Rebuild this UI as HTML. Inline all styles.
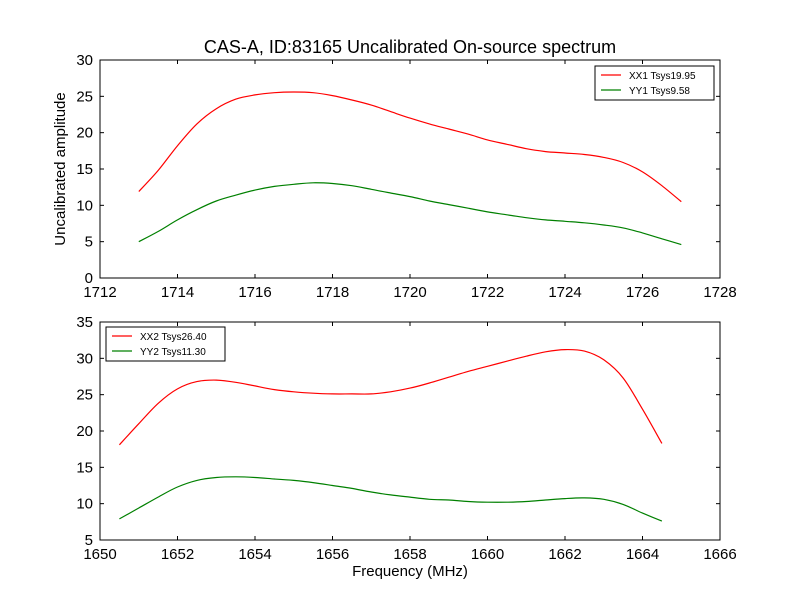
<!DOCTYPE html>
<html><head><meta charset="utf-8"><style>body{margin:0;background:#fff}svg{display:block;font-family:"Liberation Sans",sans-serif}</style></head>
<body>
<svg id="c" width="800" height="600">
<rect width="800" height="600" fill="#fff"/>
<text x="410" y="53" font-size="18" text-anchor="middle">CAS-A, ID:83165 Uncalibrated On-source spectrum</text>
<text x="65" y="169" font-size="15" text-anchor="middle" transform="rotate(-90 65 169)">Uncalibrated amplitude</text>
<text x="410" y="576" font-size="15" text-anchor="middle">Frequency (MHz)</text>
</svg>
<script>
const topX=[1713,1713.5,1714,1714.5,1715,1715.5,1716,1716.5,1717,1717.5,1718,1718.5,1719,1719.5,1720,1720.5,1721,1721.5,1722,1722.5,1723,1723.5,1724,1724.5,1725,1725.5,1726,1726.5,1727];
const xx1=[11.9,14.8,18.2,21.2,23.3,24.6,25.2,25.5,25.6,25.5,25.1,24.5,23.8,22.9,22.0,21.2,20.5,19.8,19.0,18.4,17.8,17.4,17.2,17.0,16.6,15.9,14.6,12.7,10.5];
const yy1=[5.0,6.4,8.0,9.4,10.6,11.4,12.1,12.6,12.9,13.1,13.0,12.7,12.2,11.7,11.2,10.6,10.1,9.6,9.1,8.7,8.3,8.0,7.8,7.6,7.3,6.9,6.2,5.4,4.6];
const botX=[1650.5,1651,1651.5,1652,1652.5,1653,1653.5,1654,1654.5,1655,1655.5,1656,1656.5,1657,1657.5,1658,1658.5,1659,1659.5,1660,1660.5,1661,1661.5,1662,1662.5,1663,1663.5,1664,1664.5];
const xx2=[18.1,21,23.8,25.8,26.8,27.0,26.7,26.2,25.7,25.4,25.2,25.1,25.1,25.1,25.4,25.9,26.6,27.4,28.2,28.9,29.6,30.3,30.9,31.2,31.0,29.8,27.3,23.0,18.3];
const yy2=[7.9,9.4,10.9,12.3,13.2,13.6,13.7,13.6,13.4,13.2,12.9,12.5,12.1,11.6,11.2,10.9,10.6,10.5,10.3,10.2,10.2,10.3,10.5,10.7,10.8,10.6,9.9,8.7,7.6];
const topXTicks=[1712,1714,1716,1718,1720,1722,1724,1726,1728];
const topYTicks=[0,5,10,15,20,25,30];
const botXTicks=[1650,1652,1654,1656,1658,1660,1662,1664,1666];
const botYTicks=[5,10,15,20,25,30,35];
const NS="http://www.w3.org/2000/svg",svg=document.getElementById('c');
function mk(t,a,p){const e=document.createElementNS(NS,t);for(const k in a)e.setAttribute(k,a[k]);(p||svg).appendChild(e);return e;}
function smooth(P){let d='M'+P[0][0].toFixed(1)+','+P[0][1].toFixed(1);
 for(let i=0;i<P.length-1;i++){const p0=P[i-1]||P[i],p1=P[i],p2=P[i+1],p3=P[i+2]||P[i+1];
  const c1=[p1[0]+(p2[0]-p0[0])/6,p1[1]+(p2[1]-p0[1])/6],c2=[p2[0]-(p3[0]-p1[0])/6,p2[1]-(p3[1]-p1[1])/6];
  d+=' C'+c1.map(v=>v.toFixed(1))+' '+c2.map(v=>v.toFixed(1))+' '+p2.map(v=>v.toFixed(1));}
 return d;}
function panel(name,top,x0,x1,y0,y1,xt,yt,series,legend){
 const L=100,R=720,T=top,B=top+218;
 const sx=v=>L+(v-x0)/(x1-x0)*(R-L), sy=v=>B-(v-y0)/(y1-y0)*(B-T);
 const g=mk('g',{});
 
 
 series.forEach(s=>{
  const P=s.x.map((v,i)=>[sx(v),sy(s.y[i])]);
  const pl=mk('path',{d:smooth(P),fill:'none',stroke:s.c,'stroke-width':1.2,'stroke-linejoin':'round'},g);
  
  
 });
 mk('rect',{x:L,y:T,width:R-L,height:B-T,fill:'none',stroke:'#000','stroke-width':1},g);
 xt.forEach(v=>{const x=sx(v);mk('line',{x1:x,x2:x,y1:B,y2:B-4,stroke:'#000'},g);mk('line',{x1:x,x2:x,y1:T,y2:T+4,stroke:'#000'},g);
  const t=mk('text',{x:x,y:B+19,'font-size':15,'text-anchor':'middle'},g);t.textContent=v;
  
  });
 yt.forEach(v=>{const y=sy(v);mk('line',{x1:L,x2:L+4,y1:y,y2:y,stroke:'#000'},g);mk('line',{x1:R,x2:R-4,y1:y,y2:y,stroke:'#000'},g);
  const t=mk('text',{x:L-7,y:y+5,'font-size':15,'text-anchor':'end'},g);t.textContent=v;
  
  });
 const lg=mk('g',{},g);
 
 
 mk('rect',{x:legend.x,y:legend.y,width:119,height:34,fill:'#fff',stroke:'#000'},lg);
 series.forEach((s,i)=>{const y=legend.y+9+i*15;
  mk('line',{x1:legend.x+6,x2:legend.x+26,y1:y,y2:y,stroke:s.c,'stroke-width':1.2},lg);
  const t=mk('text',{x:legend.x+34,y:y+4,'font-size':10},lg);t.textContent=s.label;
  
  });
}
panel('top',60,1712,1728,0,30,topXTicks,topYTicks,[{x:topX,y:xx1,c:'#f00',n:'xx1',label:'XX1 Tsys19.95'},{x:topX,y:yy1,c:'#008000',n:'yy1',label:'YY1 Tsys9.58'}],{x:595,y:66});
panel('bottom',322,1650,1666,5,35,botXTicks,botYTicks,[{x:botX,y:xx2,c:'#f00',n:'xx2',label:'XX2 Tsys26.40'},{x:botX,y:yy2,c:'#008000',n:'yy2',label:'YY2 Tsys11.30'}],{x:106,y:327});
</script>
</body></html>
